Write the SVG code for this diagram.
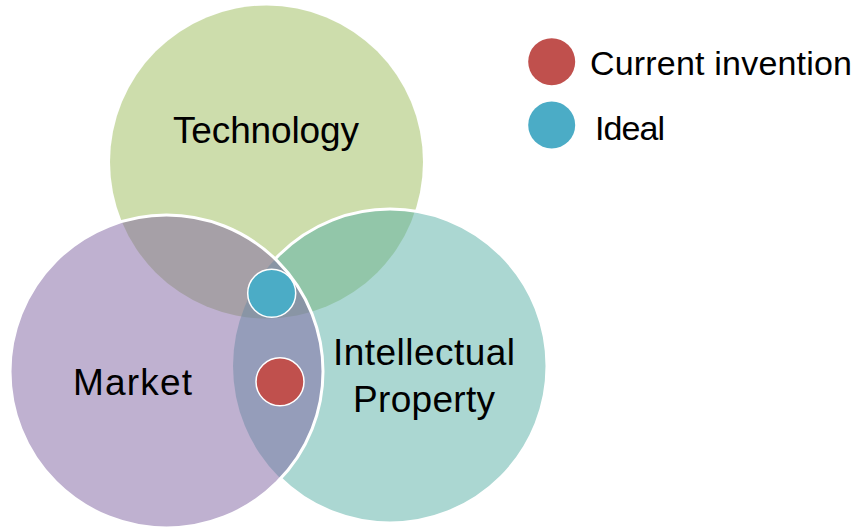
<svg xmlns="http://www.w3.org/2000/svg" width="860" height="529" viewBox="0 0 860 529">
<style>
.set{fill-opacity:0.5}
.lbl{font-family:"Liberation Sans","Open Sans",Arial,sans-serif;font-size:37px;fill:#000}
.leg{font-family:"Liberation Sans","Open Sans",Arial,sans-serif;font-size:34px;fill:#000}
.edge{fill:none;stroke:#fff;stroke-width:3}
.dot{stroke:#fff;stroke-width:1.5}
</style>
<defs>
<mask id="outsideMarket" maskUnits="userSpaceOnUse" x="0" y="0" width="860" height="529">
<rect x="0" y="0" width="860" height="529" fill="#fff"/>
<circle cx="166.5" cy="371.5" r="156.5" fill="#000"/>
</mask>
</defs>
<rect width="860" height="529" fill="#fff"/>
<g id="technology">
<circle class="set" cx="266.5" cy="162" r="156.5" fill="#9BBB59"/>
</g>
<g id="intellectual-property">
<circle class="set" cx="390" cy="366" r="157" fill="#58B0A6"/>
<circle class="edge" cx="390" cy="366" r="157" mask="url(#outsideMarket)"/>
</g>
<g id="market">
<circle class="set" cx="166.5" cy="371.5" r="156.5" fill="#8064A2"/>
<circle class="edge" cx="166.5" cy="371.5" r="156.5"/>
</g>
<g id="labels">
<text class="lbl" x="266" y="143" text-anchor="middle" textLength="186">Technology</text>
<text class="lbl" x="132.5" y="395" text-anchor="middle" textLength="119">Market</text>
<text class="lbl" x="424" y="365" text-anchor="middle" textLength="182">Intellectual</text>
<text class="lbl" x="424" y="412" text-anchor="middle" textLength="142">Property</text>
</g>
<g id="ideal-marker">
<circle class="dot" cx="271.7" cy="293.3" r="24" fill="#4BACC6"/>
</g>
<g id="current-marker">
<circle class="dot" cx="280" cy="381.7" r="24" fill="#C0504D"/>
</g>
<g id="legend">
<g id="legend-current">
<circle cx="551.7" cy="61.7" r="23.5" fill="#C0504D"/>
<text class="leg" x="590" y="75" textLength="262">Current invention</text>
</g>
<g id="legend-ideal">
<circle cx="551.7" cy="125" r="23.5" fill="#4BACC6"/>
<text class="leg" x="595" y="140" textLength="70">Ideal</text>
</g>
</g>
<g id="connectors"></g>
</svg>
